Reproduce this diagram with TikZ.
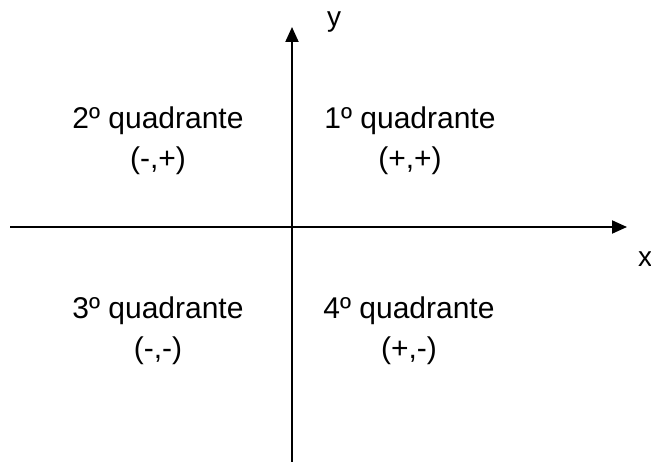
\documentclass[tikz,border=0pt]{standalone}
\usepackage{fontspec}
\setmainfont{Liberation Sans}
\usetikzlibrary{arrows.meta, positioning}

\begin{document}
\begin{tikzpicture}[
    x=1pt, y=-1pt,
    axis/.style={line width=2pt, -{Triangle[length=15pt, width=13pt]}},
    quad/.style={align=center, anchor=base, inner sep=0pt,
                 font=\fontsize{30}{40}\selectfont},
    axlabel/.style={font=\fontsize{28}{30}\selectfont, inner sep=0pt},
  ]
    \useasboundingbox (0,0) rectangle (651,462);
    % axes
    \coordinate (xl) at (10,227);
    \coordinate (xr) at (627,227);
    \coordinate (yb) at (292,462);
    \coordinate (yt) at (292,27);
    \draw[axis] (xl) -- (xr);
    \draw[axis] (yb) -- (yt);
    \node[axlabel] (xlab) at (645,259) {x};
    \node[axlabel] (ylab) at (334,22) {y};
    % quadrants
    \node[quad] (q1) at (410,169) {1º quadrante\\(+,+)};
    \node[quad] (q2) at (158,169) {2º quadrante\\(-,+)};
    \node[quad] (q3) at (158,359) {3º quadrante\\(-,-)};
    \node[quad] (q4) at (409,359) {4º quadrante\\(+,-)};
\end{tikzpicture}
\end{document}
